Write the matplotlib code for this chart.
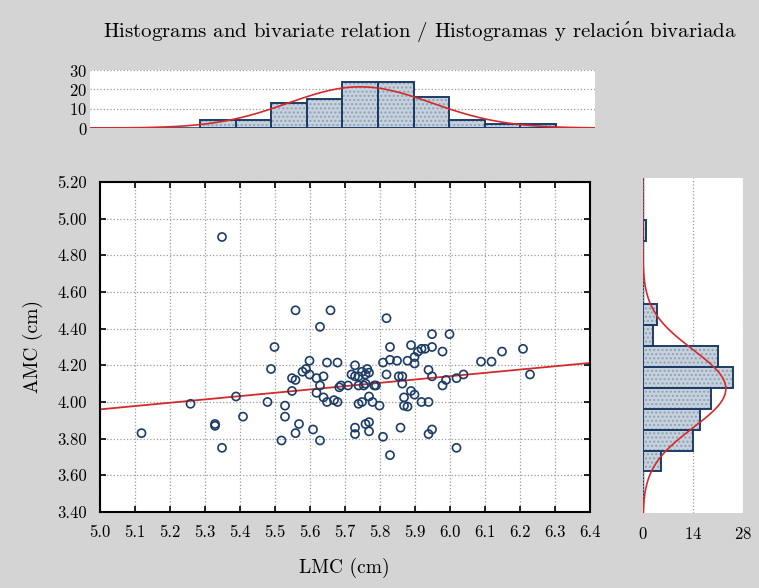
import numpy as np
import matplotlib
matplotlib.use("Agg")
import matplotlib.pyplot as plt

# scatter data: LMC (cm) vs AMC (cm)
lmc = [5.12, 5.26, 5.33, 5.33, 5.35, 5.35, 5.39, 5.41, 5.48, 5.49,
       5.50, 5.52, 5.53, 5.53, 5.55, 5.56, 5.55, 5.56, 5.57, 5.56,
       5.58, 5.59, 5.60, 5.60, 5.61, 5.62, 5.63, 5.63, 5.63, 5.64,
       5.64, 5.65, 5.65, 5.66, 5.67, 5.68, 5.68, 5.685, 5.71, 5.72,
       5.73, 5.73, 5.74, 5.74, 5.75, 5.765, 5.77, 5.76, 5.785, 5.74,
       5.75, 5.77, 5.78, 5.80, 5.73, 5.73, 5.76, 5.77, 5.77, 5.81,
       5.83, 5.81, 5.82, 5.83, 5.83, 5.85, 5.855, 5.86, 5.865, 5.865,
       5.87, 5.87, 5.88, 5.88, 5.89, 5.89, 5.90, 5.90, 5.90, 5.91,
       5.92, 5.93, 5.92, 5.94, 5.95, 5.94, 5.95, 5.94, 5.95, 5.98,
       5.98, 5.99, 6.02, 6.04, 6.02, 6.09, 6.12, 6.15, 6.21, 6.23,
       5.82, 5.95, 6.00, 5.69, 5.755, 5.79, 5.76, 5.62]
amc = [3.83, 3.99, 3.87, 3.88, 3.75, 4.90, 4.03, 3.92, 4.00, 4.18,
       4.30, 3.79, 3.98, 3.92, 4.13, 4.12, 4.06, 3.83, 3.88, 4.50,
       4.165, 4.18, 4.225, 4.15, 3.85, 4.05, 3.79, 4.09, 4.41, 4.14,
       4.025, 4.215, 4.00, 4.50, 4.01, 4.215, 4.00, 4.08, 4.09, 4.15,
       4.20, 4.14, 4.09, 4.14, 4.165, 4.18, 4.16, 4.10, 4.09, 3.99,
       4.00, 4.03, 4.00, 3.98, 3.86, 3.825, 3.88, 3.89, 3.84, 3.81,
       3.71, 4.215, 4.15, 4.30, 4.23, 4.225, 4.14, 3.86, 4.14, 4.10,
       4.025, 3.98, 3.975, 4.225, 4.31, 4.06, 4.245, 4.21, 4.04, 4.275,
       4.29, 4.29, 4.00, 4.00, 4.30, 4.175, 4.14, 3.825, 3.85, 4.275,
       4.09, 4.12, 4.13, 4.15, 3.75, 4.22, 4.22, 4.275, 4.29, 4.15,
       4.457, 4.37, 4.37, 4.09, 4.09, 4.09, 4.15, 4.13]

# histogram of LMC (top), bins of 0.1 cm
lmc_bin_left = [5.3, 5.4, 5.5, 5.6, 5.7, 5.8, 5.9, 6.0, 6.1, 6.2]
lmc_counts   = [4, 4, 13, 15, 24, 24, 16, 4, 2, 2]

# histogram of AMC (right), bins of 0.1 cm
amc_bin_low = [3.7, 3.8, 3.9, 4.0, 4.1, 4.2, 4.3, 4.4, 4.8]
amc_counts  = [5, 14, 16, 19, 25, 21, 3, 4, 1]

TITLE = r"Histograms and bivariate relation / Histogramas y relaci$\mathrm{\acute{o}}$n bivariada"
BIN_W = 0.1

lmc = np.array(lmc); amc = np.array(amc)
n = len(lmc)

plt.rcParams["font.family"] = ["cmr10", "DejaVu Serif"]
plt.rcParams["mathtext.fontset"] = "cm"
plt.rcParams["axes.formatter.use_mathtext"] = True

BG = "#d4d4d4"
NAVY = "#1c3c68"
BAR = "#c6d1dc"
DOTS = "#8ea2b6"
RED = "#d42a2a"

fig = plt.figure(figsize=(7.59, 5.88), dpi=100, facecolor=BG)

ax = fig.add_axes([0.1311, 0.1293, 0.6456, 0.5612])
ax_top = fig.add_axes([0.1186, 0.7823, 0.6653, 0.0986])
ax_right = fig.add_axes([0.8467, 0.1270, 0.1326, 0.5697])

# ---------------- main scatter ----------------
ax.scatter(lmc, amc, s=34, facecolors="none", edgecolors=NAVY, linewidths=1.2, zorder=3)
b, a = np.polyfit(lmc, amc, 1)
xx = np.array([5.0, 6.4])
ax.plot(xx, a + b * xx, color=RED, lw=1.3, zorder=2)
ax.set_xlim(5.0, 6.4)
ax.set_ylim(3.4, 5.2)
ax.set_xticks(np.round(np.arange(5.0, 6.41, 0.1), 1))
ax.set_yticks(np.round(np.arange(3.4, 5.21, 0.2), 1))
ax.set_xticklabels([f"{v:.1f}" for v in ax.get_xticks()])
ax.set_yticklabels([f"{v:.2f}" for v in ax.get_yticks()])
ax.grid(True, ls=":", color="#9a9a9a", lw=0.9)
ax.tick_params(direction="in", top=True, right=True, length=4, width=1.2,
               labelsize=12, pad=9)
for s in ax.spines.values():
    s.set_linewidth(1.5)
ax.set_xlabel("LMC (cm)", fontsize=14, labelpad=13)
ax.set_ylabel("AMC (cm)", fontsize=14, labelpad=10)

# ---------------- top histogram ----------------
ax_top.bar(lmc_bin_left, lmc_counts, width=BIN_W, align="edge", color=BAR,
           edgecolor=DOTS, hatch="....", lw=0, zorder=2)
ax_top.bar(lmc_bin_left, lmc_counts, width=BIN_W, align="edge", color="none",
           edgecolor=NAVY, lw=1.4, zorder=2)
mu, sd = lmc.mean(), lmc.std(ddof=1)
xs = np.linspace(4.99, 6.41, 300)
ax_top.plot(xs, n * BIN_W / (sd * np.sqrt(2 * np.pi)) * np.exp(-0.5 * ((xs - mu) / sd) ** 2),
            color=RED, lw=1.2, zorder=3)
ax_top.axhline(0, color=NAVY, lw=1.2, zorder=1)
ax_top.set_xlim(4.99, 6.41)
ax_top.set_ylim(0, 30)
ax_top.set_yticks([0, 10, 20, 30])
ax_top.set_xticks([])
ax_top.grid(True, axis="y", ls=":", color="#9a9a9a", lw=0.9)
ax_top.tick_params(length=0, labelsize=12, pad=2)
for s in ax_top.spines.values():
    s.set_visible(False)

# ---------------- right histogram ----------------
ax_right.barh(amc_bin_low, amc_counts, height=BIN_W, align="edge", color=BAR,
              edgecolor=DOTS, hatch="....", lw=0, zorder=2)
ax_right.barh(amc_bin_low, amc_counts, height=BIN_W, align="edge", color="none",
              edgecolor=NAVY, lw=1.4, zorder=2)
mu2, sd2 = amc.mean(), amc.std(ddof=1)
ys = np.linspace(3.5, 5.1, 300)
ax_right.plot(n * BIN_W / (sd2 * np.sqrt(2 * np.pi)) * np.exp(-0.5 * ((ys - mu2) / sd2) ** 2), ys,
              color=RED, lw=1.2, zorder=3)
ax_right.axvline(0, color=NAVY, lw=1.0, zorder=1)
ax_right.set_ylim(3.5, 5.1)
ax_right.set_xlim(0, 28)
ax_right.set_xticks([0, 14, 28])
ax_right.set_yticks([])
ax_right.grid(True, axis="x", ls=":", color="#9a9a9a", lw=0.9)
ax_right.tick_params(length=0, labelsize=12, pad=9)
for s in ax_right.spines.values():
    s.set_visible(False)

fig.text(0.553, 0.945, TITLE, ha="center", va="center", fontsize=15)

fig.savefig("out.png", dpi=100, facecolor=BG)
